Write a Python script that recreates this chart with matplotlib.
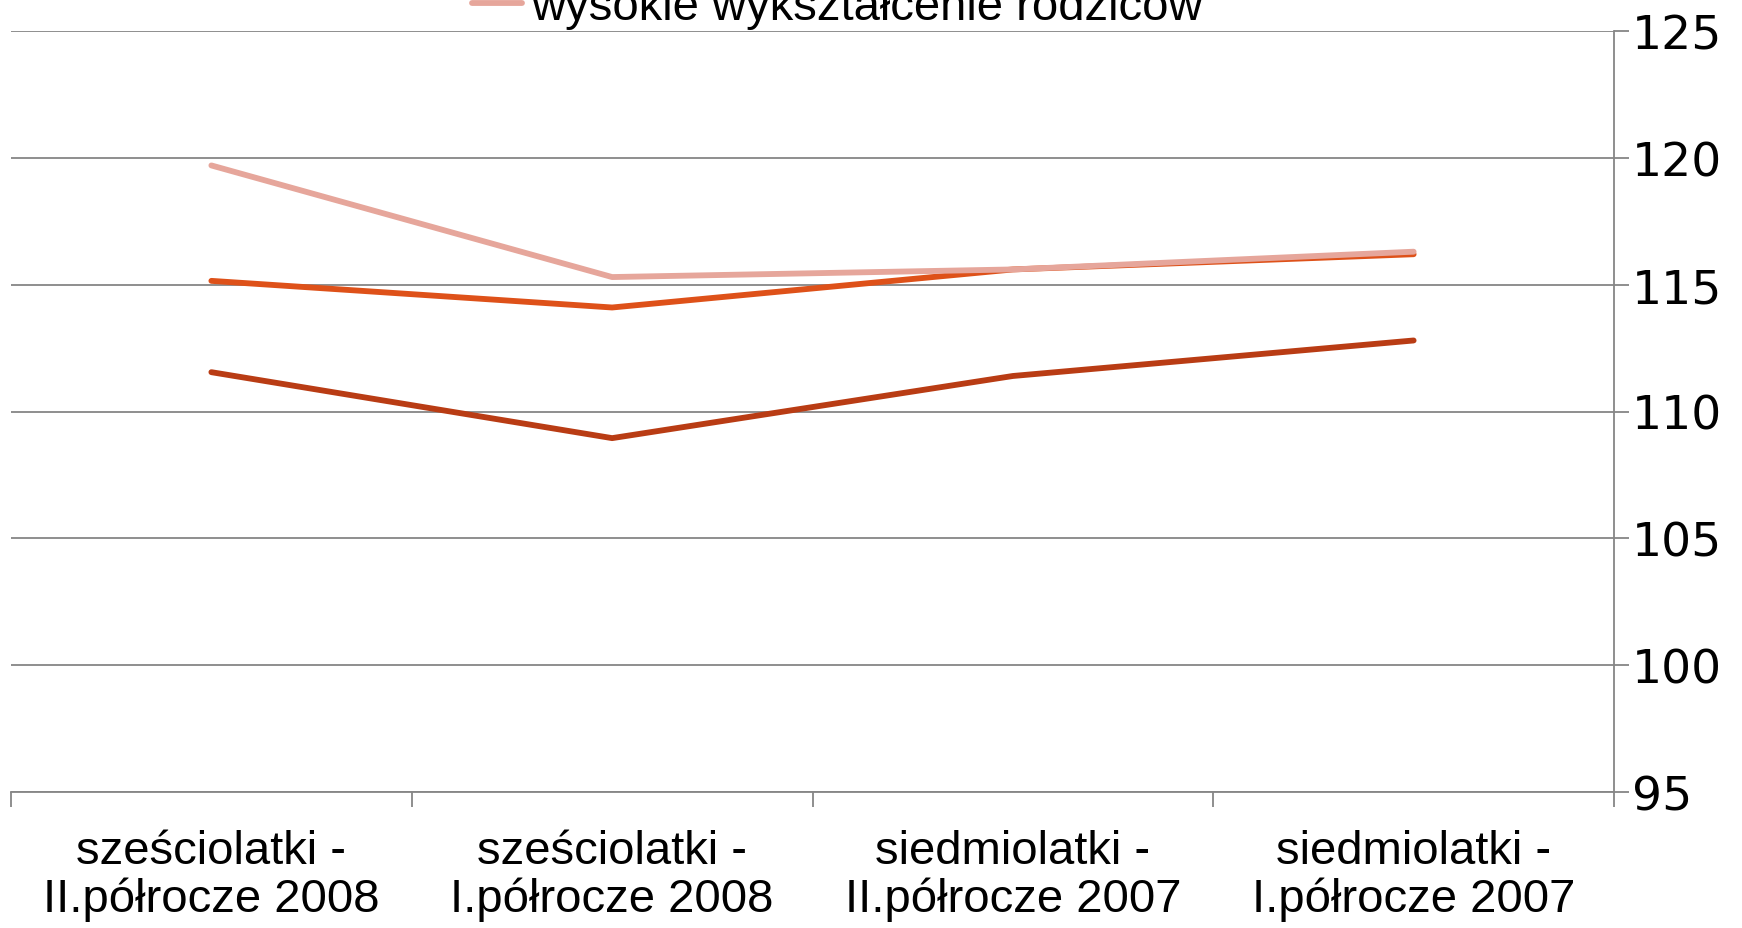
import matplotlib
matplotlib.use('Agg')
import matplotlib.pyplot as plt
import numpy as np

plt.rcParams['font.family'] = ['Liberation Sans', 'DejaVu Sans']

categories = ['sześciolatki -\nII.półrocze 2008', 'sześciolatki -\nI.półrocze 2008',
              'siedmiolatki -\nII.półrocze 2007', 'siedmiolatki -\nI.półrocze 2007']
wysokie = [119.7, 115.3, 115.6, 116.3]
srednie = [115.15, 114.1, 115.6, 116.2]
niskie = [111.55, 108.95, 111.4, 112.8]
yticks = [95, 100, 105, 110, 115, 120, 125]

grid_c = '#868686'
lw = 4.2

fig = plt.figure(figsize=(17.42, 9.29), dpi=100)
ax = fig.add_axes([11/1742, 1 - 793/929, (1614 - 11)/1742, (793 - 32)/929])

x = np.arange(len(categories))
ax.plot(x, niskie, color='#B93C14', lw=lw, solid_capstyle='round')
ax.plot(x, srednie, color='#DE5119', lw=lw, solid_capstyle='round')
l_wys, = ax.plot(x, wysokie, color='#E6A69B', lw=lw, solid_capstyle='round',
                 label='wysokie wykształcenie rodziców')

ax.set_xlim(-0.5, 3.5)
ax.set_ylim(95, 125)
ax.set_yticks(yticks)
ax.yaxis.tick_right()
ax.yaxis.grid(True, color=grid_c, lw=1.3)
ax.set_axisbelow(True)
ax.tick_params(axis='y', length=11, width=1.3, color=grid_c, pad=2,
               labelsize=34, labelfontfamily='DejaVu Sans')

ax.set_xticks(x)
ax.set_xticklabels(categories, fontsize=34, linespacing=1.08)
ax.set_xticks(np.arange(-0.5, 4, 1), minor=True)
ax.tick_params(axis='x', which='major', length=0, pad=27)
ax.tick_params(axis='x', which='minor', length=11, width=1.3, color=grid_c)

for s in ['top', 'left']:
    ax.spines[s].set_visible(False)
for s in ['right', 'bottom']:
    ax.spines[s].set_color(grid_c)
    ax.spines[s].set_linewidth(1.3)

fig.legend(handles=[l_wys], loc='center left', bbox_to_anchor=(472/1742, 1 - 8/929),
           frameon=False, fontsize=34, handlelength=1.06, handletextpad=0.19,
           borderpad=0, borderaxespad=0)

fig.savefig('out.png', dpi=100)
